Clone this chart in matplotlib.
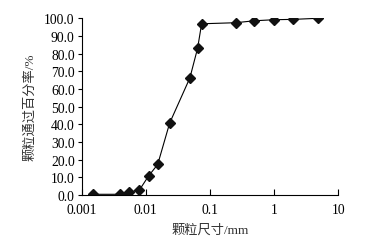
import matplotlib
matplotlib.use("Agg")
import matplotlib.pyplot as plt

# 颗粒尺寸 (mm) 与 通过百分率 (%)
size_mm = [0.00152, 0.0040, 0.0055, 0.0079, 0.0110, 0.0153, 0.0235,
           0.0486, 0.0641, 0.0740, 0.251, 0.49, 1.0, 2.0, 4.84]
passing = [0.4, 0.4, 1.7, 2.7, 10.7, 17.3, 40.7,
           66.3, 83.1, 96.9, 97.5, 98.6, 99.2, 99.4, 100.0]

xticks = [0.001, 0.01, 0.1, 1, 10]
xticklabels = ['0.001', '0.01', '0.1', '1', '10']
yticks = [0, 10, 20, 30, 40, 50, 60, 70, 80, 90, 100]

fam = ['Liberation Serif', 'Noto Sans CJK SC']
plt.rcParams['font.family'] = fam

fig = plt.figure(figsize=(3.81, 2.53), dpi=100)
ax = fig.add_axes([0.2144, 0.2253, 0.888 - 0.2144, 0.9237 - 0.2253])

ax.plot(size_mm, passing, color='black', lw=0.8, marker='D', ms=5.0,
        mfc='#111111', mec='#111111')

ax.set_xscale('log')
ax.set_xlim(0.001, 10)
ax.set_ylim(0, 100)
ax.set_xticks(xticks)
ax.set_xticklabels(xticklabels)
ax.xaxis.set_minor_locator(matplotlib.ticker.NullLocator())
ax.set_yticks(yticks)
ax.set_yticklabels(['%.1f' % v for v in yticks])

ax.spines['top'].set_visible(False)
ax.spines['right'].set_visible(False)
ax.spines['left'].set_linewidth(0.8)
ax.spines['bottom'].set_linewidth(0.8)
ax.tick_params(axis='x', direction='in', length=4, width=0.8, labelsize=9.8, pad=6)
ax.tick_params(axis='y', direction='out', length=3, width=0.8, labelsize=9.8, pad=2)

ax.set_xlabel('颗粒尺寸/mm', fontsize=9.5, labelpad=5, color='#333333')
ax.set_ylabel('颗粒通过百分率/%', fontsize=9.5, labelpad=6, color='#333333')

fig.savefig('out.png', dpi=100, facecolor='white')
